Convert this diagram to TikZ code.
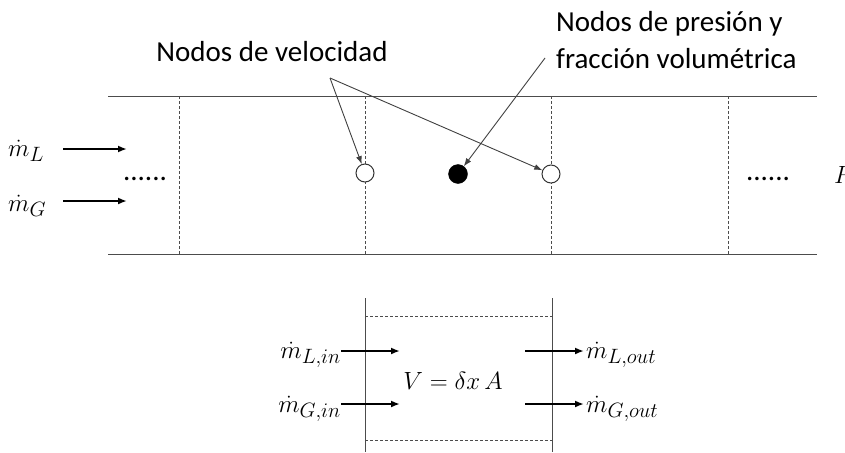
\documentclass[tikz,border=0pt]{standalone}
\usepackage{fontspec}
\setmainfont{Carlito}
\usepackage{amsmath}
\usetikzlibrary{arrows.meta}
\begin{document}
\begin{tikzpicture}[x=1pt,y=-1pt,
  pipe/.style={draw=black!70,line width=1pt},
  cell/.style={draw=black!70,line width=0.9pt,dash pattern=on 3pt off 2pt},
  flow/.style={-{Latex[length=9pt,width=7pt]},line width=2.6pt},
  ptr/.style={-{Latex[length=8pt,width=6pt]},draw=black!75,line width=0.9pt},
  lab/.style={font=\fontsize{29}{36}\selectfont,inner sep=0pt},
  mth/.style={font=\fontsize{25}{28}\selectfont,inner sep=0pt},
  mthm/.style={font=\fontsize{29}{32}\selectfont,inner sep=0pt},
  vnode/.style={circle,draw=black!80,fill=white,line width=1pt,minimum size=18pt,inner sep=0pt},
  pnode/.style={circle,draw=black,fill=black,minimum size=19pt,inner sep=0pt}]
\useasboundingbox (0,0) rectangle (845,452);
% pipe walls
\coordinate (tl) at (108,96); \coordinate (tr) at (817,96);
\coordinate (bl) at (108,254); \coordinate (br) at (817,254);
\draw[pipe] (tl) -- (tr);
\draw[pipe] (bl) -- (br);
% cell boundaries
\foreach \x/\n in {179/a,365/b,551/c,728/d}{
  \coordinate (t\n) at (\x,96); \coordinate (b\n) at (\x,254);
  \draw[cell] (t\n) -- (b\n);
}
% nodes
\node[vnode] (v1) at (365,173) {};
\node[vnode] (v2) at (551,174) {};
\node[pnode] (p1) at (458,174) {};
% dots
\node[lab,anchor=base] (dl) at (145,180) {......};
\node[lab,anchor=base] (dr) at (768,180) {......};
\node[mthm,anchor=west] (P) at (834,175) {$P$};
% labels
\node[lab,anchor=base] (lv) at (272,61) {Nodos de velocidad};
\node[lab,anchor=base west,align=left] (lp) at (556,68) {Nodos de presión y\\fracción volumétrica};
\coordinate (av) at (330,78);
\coordinate (ap) at (545,58);
\draw[ptr] (av) -- (v1);
\draw[ptr] (av) -- (v2);
\draw[ptr] (ap) -- (p1);
% inlet flows
\node[mthm,anchor=west] (mL) at (8,151) {$\dot m_L$};
\node[mthm,anchor=west] (mG) at (8,206) {$\dot m_G$};
\coordinate (mLs) at (63,149); \coordinate (mLe) at (127,149);
\coordinate (mGs) at (63,201); \coordinate (mGe) at (127,201);
\draw[flow] (mLs) -- (mLe);
\draw[flow] (mGs) -- (mGe);
% control volume
\coordinate (cl1) at (365,298); \coordinate (cl2) at (365,452);
\coordinate (cr1) at (552,298); \coordinate (cr2) at (552,452);
\draw[pipe] (cl1) -- (cl2);
\draw[pipe] (cr1) -- (cr2);
\coordinate (dt1) at (365,316); \coordinate (dt2) at (552,316);
\coordinate (db1) at (365,440); \coordinate (db2) at (552,440);
\draw[cell] (dt1) -- (dt2);
\draw[cell] (db1) -- (db2);
\node[mth] (V) at (453,381) {$V=\delta x\,A$};
\node[mthm,anchor=east] (mLin) at (341,355) {$\dot m_{L,in}$};
\node[mthm,anchor=east] (mGin) at (341,409) {$\dot m_{G,in}$};
\node[mthm,anchor=west] (mLout) at (586,355) {$\dot m_{L,out}$};
\node[mthm,anchor=west] (mGout) at (586,409) {$\dot m_{G,out}$};
\coordinate (e1) at (400,351); \coordinate (e2) at (400,404);
\coordinate (o1) at (525,351); \coordinate (o2) at (525,404);
\draw[flow] (mLin.east |- e1) -- (e1);
\draw[flow] (mGin.east |- e2) -- (e2);
\draw[flow] (o1) -- ([xshift=-2pt]mLout.west |- o1);
\draw[flow] (o2) -- ([xshift=-2pt]mGout.west |- o2);
\end{tikzpicture}
\end{document}
